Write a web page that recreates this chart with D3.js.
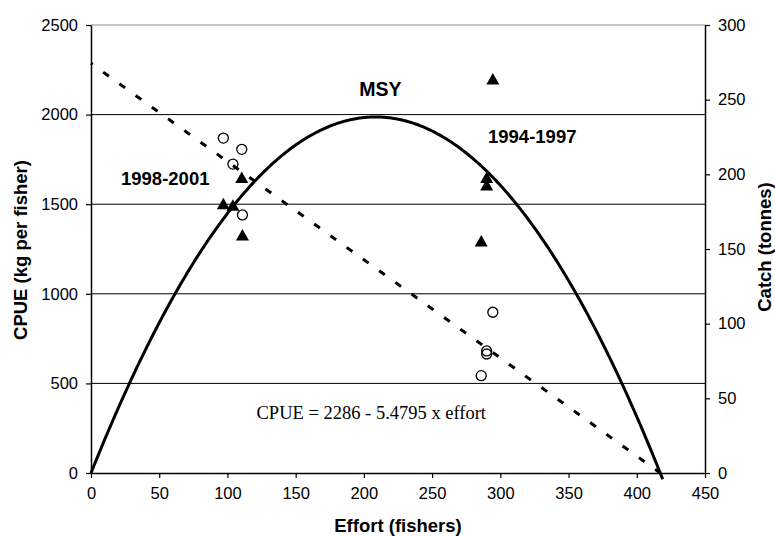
<!DOCTYPE html>
<html>
<head>
<meta charset="utf-8">
<script src="https://cdn.jsdelivr.net/npm/d3@7"></script>
<style>
  body { margin: 0; background: #fff; }
  svg { display: block; }
  .tick text { font-family: "Liberation Sans", Arial, sans-serif; font-size: 16.5px; fill: #000; }
  .title { font-family: "Liberation Sans", Arial, sans-serif; font-size: 18.5px; font-weight: bold; }
</style>
</head>
<body>
<script>
// data
const effort  = [97, 110.5, 104, 111, 294.5, 290, 290, 286];     // fishers
const cpue    = [1869, 1806, 1724, 1440, 897, 681, 664, 543];    // kg per fisher
const catchT  = [180.5, 198, 179.5, 159.5, 264, 198, 193, 155.5]; // tonnes

const xTicks = [0, 50, 100, 150, 200, 250, 300, 350, 400, 450];
const yTicks = [0, 500, 1000, 1500, 2000, 2500];
const y2Ticks = [0, 50, 100, 150, 200, 250, 300];

// fitted CPUE model printed on the chart
const intercept = 2286, slope = 5.4795;
const lineEnd = 417, curveEnd = 419;

const width = 775, height = 536;
const margin = {top: 25, right: 70, bottom: 63, left: 91};

const svg = d3.select('body').append('svg')
  .attr('width', width)
  .attr('height', height);

const x = d3.scaleLinear().domain([0, 450]).range([margin.left, width - margin.right]);
const y = d3.scaleLinear().domain([0, 2500]).range([height - margin.bottom, margin.top]);
const y2 = d3.scaleLinear().domain([0, 300]).range([height - margin.bottom, margin.top]);

// gridlines
svg.append('g').selectAll('line')
  .data(yTicks.filter(d => d > 0))
  .enter().append('line')
  .attr('x1', x(0)).attr('x2', x(450))
  .attr('y1', d => y(d)).attr('y2', d => y(d))
  .attr('stroke', d => d === 2500 ? '#888' : '#000')
  .attr('stroke-width', 1);

// axes
const fmt = d3.format('d');
const xAxis = svg.append('g')
  .attr('transform', 'translate(0,' + y(0) + ')')
  .call(d3.axisBottom(x).tickValues(xTicks).tickFormat(fmt).tickSize(5).tickPadding(9).tickSizeOuter(0));
const yAxis = svg.append('g')
  .attr('transform', 'translate(' + x(0) + ',0)')
  .call(d3.axisLeft(y).tickValues(yTicks).tickFormat(fmt).tickSize(5).tickPadding(8).tickSizeOuter(0));
const y2Axis = svg.append('g')
  .attr('transform', 'translate(' + x(450) + ',0)')
  .call(d3.axisRight(y2).tickValues(y2Ticks).tickFormat(fmt).tickSize(5).tickPadding(8).tickSizeOuter(0));

[xAxis, yAxis, y2Axis].forEach(a => {
  a.select('.domain').attr('stroke', '#000').attr('stroke-width', 1.5);
  a.selectAll('.tick line').attr('stroke', '#000').attr('stroke-width', 1.2);
});

// regression line (dashed)
svg.append('line')
  .attr('x1', x(0)).attr('y1', y(intercept))
  .attr('x2', x(lineEnd)).attr('y2', y(intercept - slope * lineEnd))
  .attr('stroke', '#000')
  .attr('stroke-width', 3)
  .attr('stroke-dasharray', '7,13')
  .attr('stroke-dashoffset', 5);

// catch curve = effort * CPUE
const curve = d3.range(0, curveEnd + 0.5, 1).map(e => [e, e * (intercept - slope * e) / 1000]);
svg.append('path')
  .datum(curve)
  .attr('d', d3.line().x(d => x(d[0])).y(d => y2(d[1])))
  .attr('fill', 'none')
  .attr('stroke', '#000')
  .attr('stroke-width', 3);

// CPUE points
svg.append('g').selectAll('circle')
  .data(effort)
  .enter().append('circle')
  .attr('cx', d => x(d))
  .attr('cy', (d, i) => y(cpue[i]))
  .attr('r', 5)
  .attr('fill', 'none')
  .attr('stroke', '#000')
  .attr('stroke-width', 1.3);

// catch points
const tw = 13, th = 11.5;
svg.append('g').selectAll('path')
  .data(effort)
  .enter().append('path')
  .attr('transform', (d, i) => 'translate(' + x(d) + ',' + y2(catchT[i]) + ')')
  .attr('d', 'M0,' + (-th / 2) + 'L' + (tw / 2) + ',' + (th / 2) + 'L' + (-tw / 2) + ',' + (th / 2) + 'Z')
  .attr('fill', '#000');

// annotations
svg.append('text').attr('class', 'title').attr('x', 380.5).attr('y', 96)
  .attr('text-anchor', 'middle').style('font-size', '19.5px').text('MSY');
svg.append('text').attr('class', 'title').attr('x', 121).attr('y', 185).text('1998-2001');
svg.append('text').attr('class', 'title').attr('x', 488).attr('y', 143).text('1994-1997');
svg.append('text')
  .attr('x', 256.5).attr('y', 419)
  .style('font-family', '"Liberation Serif", "Times New Roman", serif')
  .style('font-size', '18.5px')
  .text('CPUE = 2286 - 5.4795 x effort');

// axis titles
svg.append('text').attr('class', 'title')
  .attr('x', x(225)).attr('y', 532)
  .attr('text-anchor', 'middle')
  .text('Effort (fishers)');
svg.append('text').attr('class', 'title')
  .attr('transform', 'translate(27,250) rotate(-90)')
  .attr('text-anchor', 'middle')
  .text('CPUE (kg per fisher)');
svg.append('text').attr('class', 'title')
  .attr('transform', 'translate(771,247) rotate(-90)')
  .attr('text-anchor', 'middle')
  .text('Catch (tonnes)');
</script>
</body>
</html>
